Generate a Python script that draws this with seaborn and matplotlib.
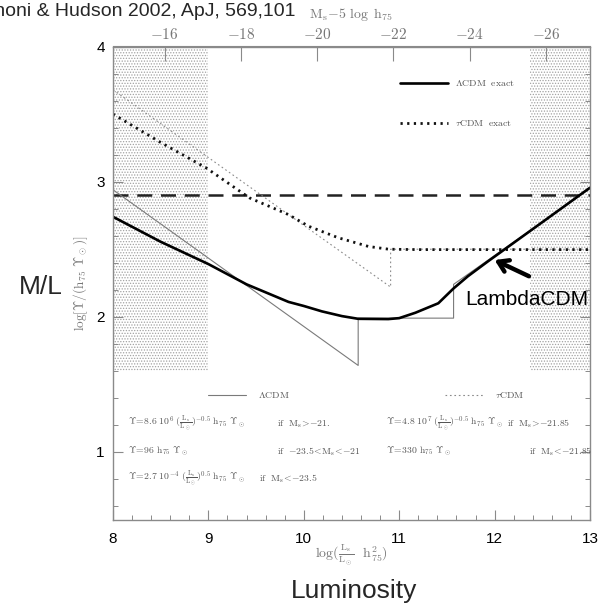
import matplotlib
matplotlib.use("Agg")
import matplotlib.pyplot as plt
import seaborn as sns
import numpy as np
from matplotlib.lines import Line2D
from matplotlib.ticker import MultipleLocator, FixedLocator

# ---------------- data ----------------
lcdm_exact_x = [8.0, 8.5, 9.0, 9.4, 9.84, 10.0, 10.19, 10.4, 10.57, 10.885, 11.0,
                11.17, 11.41, 11.57, 11.72, 11.93, 12.5, 12.97, 13.0]
lcdm_exact_y = [2.74, 2.555, 2.39, 2.24, 2.11, 2.08, 2.04, 2.005, 1.985, 1.983, 1.99,
                2.03, 2.10, 2.21, 2.30, 2.41, 2.70, 2.94, 2.955]
tcdm_exact_x = [8.0, 8.5, 8.98, 9.43, 9.84, 10.05, 10.36, 10.68, 10.89, 11.2, 13.0]
tcdm_exact_y = [3.50, 3.29, 3.10, 2.88, 2.756, 2.67, 2.585, 2.52, 2.50, 2.497, 2.497]
lcdm_fit_x = [8.0, 10.57, 10.57, 11.57, 11.57, 13.0]
lcdm_fit_y = [2.94, 1.64, 1.99, 1.99, 2.24, 2.95]
tcdm_fit_x = [8.0, 10.91, 10.91, 13.0]
tcdm_fit_y = [3.68, 2.22, 2.50, 2.50]
const_x = [8.0, 13.0]
const_y = [2.9, 2.9]
excluded_ranges = [(8.0, 9.0), (12.37, 13.0)]
excluded_ylow, excluded_yhigh = 1.6, 4.0
top_ticks = [-16, -18, -20, -22, -24, -26]
mag_zero = 5.35  # M_s - 5 log h75 = mag_zero - 2.5 log L

lcdm_rows = [
    (r"$\Upsilon\!=\!8.6\ 10^{6}\ (\frac{\mathrm{L_s}}{\mathrm{L_\odot}})^{-0.5}\ \mathrm{h_{75}}\ \Upsilon_\odot$",
     r"$\mathrm{if}\ \ \mathrm{M_s}\!>\!{-}21.$"),
    (r"$\Upsilon\!=\!96\ \mathrm{h_{75}}\ \Upsilon_\odot$",
     r"$\mathrm{if}\ \ {-}23.5\!<\!\mathrm{M_s}\!<\!{-}21$"),
    (r"$\Upsilon\!=\!2.7\ 10^{-4}\ (\frac{\mathrm{L_s}}{\mathrm{L_\odot}})^{0.5}\ \mathrm{h_{75}}\ \Upsilon_\odot$",
     r"$\mathrm{if}\ \ \mathrm{M_s}\!<\!{-}23.5$"),
]
tcdm_rows = [
    (r"$\Upsilon\!=\!4.8\ 10^{7}\ (\frac{\mathrm{L_s}}{\mathrm{L_\odot}})^{-0.5}\ \mathrm{h_{75}}\ \Upsilon_\odot$",
     r"$\mathrm{if}\ \ \mathrm{M_s}\!>\!{-}21.85$"),
    (r"$\Upsilon\!=\!330\ \mathrm{h_{75}}\ \Upsilon_\odot$",
     r"$\mathrm{if}\ \ \mathrm{M_s}\!<\!{-}21.85$"),
]

# ---------------- style ----------------
sns.set_style("ticks")
plt.rcParams["font.family"] = ["Liberation Sans", "DejaVu Sans"]
plt.rcParams["mathtext.fontset"] = "cm"
plt.rcParams["hatch.linewidth"] = 0.6
GREY = "#8a8a8a"
TXT = "#555555"

fig = plt.figure(figsize=(6.09, 6.06), dpi=100)
ax = fig.add_axes([113 / 609, 1 - 519.5 / 606, 477 / 609, 473 / 606])

# excluded (shaded) regions
for lo, hi in excluded_ranges:
    ax.fill_between([lo, hi], excluded_ylow, excluded_yhigh, facecolor="white",
                    hatch="......", edgecolor="#a2a2a2", linewidth=0, zorder=0)

# lines
sns.lineplot(x=const_x, y=const_y, sort=False, estimator=None, ax=ax,
             color="#222222", lw=1.8, linestyle=(0, (6, 3.5)))
sns.lineplot(x=lcdm_fit_x, y=lcdm_fit_y, sort=False, estimator=None, ax=ax,
             color="#7a7a7a", lw=0.8)
l_lcdm_fit = ax.lines[-1]
sns.lineplot(x=tcdm_fit_x, y=tcdm_fit_y, sort=False, estimator=None, ax=ax,
             color="#8a8a8a", lw=0.8, linestyle=(0, (1.5, 2.5)))
l_tcdm_fit = ax.lines[-1]
sns.lineplot(x=tcdm_exact_x, y=tcdm_exact_y, sort=False, estimator=None, ax=ax,
             color="#111111", lw=2.0, linestyle=(0, (0.8, 1.6)))
l_tcdm_exact = ax.lines[-1]
sns.lineplot(x=lcdm_exact_x, y=lcdm_exact_y, sort=False, estimator=None, ax=ax,
             color="#000000", lw=1.9)
l_lcdm_exact = ax.lines[-1]

ax.set_xlim(8, 13)
ax.set_ylim(0.5, 4)

# ticks
ax.xaxis.set_major_locator(MultipleLocator(1))
ax.xaxis.set_minor_locator(MultipleLocator(0.2))
ax.yaxis.set_major_locator(MultipleLocator(1))
ax.yaxis.set_minor_locator(MultipleLocator(0.2))
ax.set_yticks([1, 2, 3, 4])
ax.tick_params(which="both", direction="in", color=GREY, top=False, right=True)
ax.tick_params(which="major", length=7, width=0.8, labelsize=11, labelcolor="black")
ax.tick_params(which="minor", length=3.5, width=0.7)
ax.tick_params(axis="x", which="major", pad=9)
ax.tick_params(axis="y", which="major", pad=6)
for s in ax.spines.values():
    s.set_color(GREY)
    s.set_linewidth(1.0)

# top magnitude axis
sec = ax.secondary_xaxis("top", functions=(lambda x: mag_zero - 2.5 * x,
                                            lambda m: (mag_zero - m) / 2.5))
sec.xaxis.set_major_locator(FixedLocator(top_ticks))
sec.set_xticklabels([r"$-%d$" % abs(t) for t in top_ticks])
sec.tick_params(direction="in", length=11, width=0.8, color=GREY,
                labelsize=11, labelcolor="#777777", pad=3)
sec.spines["top"].set_color(GREY)
sec.set_xlabel(r"$\mathrm{M_s\!-\!5\ \log\ h_{75}}$", fontsize=10, color="#777777",
               labelpad=7)

# axis labels
ax.set_xlabel(r"$\log(\frac{\mathrm{L_s}}{\mathrm{L_\odot}}\ \ \mathrm{h^2_{75}})$",
              fontsize=10, color="#777777")
ax.xaxis.set_label_coords(0.5, (519.5 - 543) / 473)
ax.set_ylabel(r"$\log[\Upsilon/(\mathrm{h_{75}}\ \Upsilon_\odot)]$",
              fontsize=9.5, color="#777777")
ax.yaxis.set_label_coords((90 - 113) / 477, 0.5)

# legends
h1 = [Line2D([], [], color=l_lcdm_exact.get_color(), lw=1.9),
      Line2D([], [], color=l_tcdm_exact.get_color(), lw=2.0, linestyle=(0, (0.8, 1.6)))]
leg1 = ax.legend(h1, [r"$\Lambda\mathrm{CDM\ \ exact}$", r"$\tau\mathrm{CDM\ \ exact}$"],
                 loc="upper left", bbox_to_anchor=((400 - 113) / 477, (519.5 - 78) / 473),
                 frameon=False, fontsize=7, handlelength=4.9, handletextpad=0.8,
                 labelspacing=3.1, borderpad=0, borderaxespad=0)
for t in leg1.get_texts():
    t.set_color(TXT)
ax.add_artist(leg1)

h2 = [Line2D([], [], color=l_lcdm_fit.get_color(), lw=0.8),
      Line2D([], [], color=l_tcdm_fit.get_color(), lw=0.8, linestyle=(0, (1.5, 2.5)))]
leg2 = ax.legend(h2, [r"$\Lambda\mathrm{CDM}$", r"$\tau\mathrm{CDM}$"],
                 loc="upper left", bbox_to_anchor=((208 - 113) / 477, (519.5 - 390) / 473),
                 frameon=False, fontsize=7, ncol=2, handlelength=3.9, handletextpad=1.2,
                 columnspacing=16.0, borderpad=0, borderaxespad=0)
for t in leg2.get_texts():
    t.set_color(TXT)

# formula texts
row_y = [1.207, 1.0, 0.80]
lcdm_if_x = [9.72, 9.72, 9.53]
for (f, c), y, xi in zip(lcdm_rows, row_y, lcdm_if_x):
    ax.text(8.156, y, f, fontsize=7, color=TXT, ha="left", va="center")
    ax.text(xi, y, c, fontsize=7, color=TXT, ha="left", va="center")
tcdm_if_x = [12.135, 12.365]
for (f, c), y, xi in zip(tcdm_rows, row_y[:2], tcdm_if_x):
    ax.text(10.865, y, f, fontsize=7, color=TXT, ha="left", va="center")
    ax.text(xi, y, c, fontsize=7, color=TXT, ha="left", va="center")

# annotation
ax.annotate("", xy=(12.0, 2.42), xytext=(12.36, 2.30),
            arrowprops=dict(arrowstyle="->,head_length=0.7,head_width=0.45",
                            lw=3.2, color="black", shrinkA=0, shrinkB=0))
ax.text(12.34, 2.126, "LambdaCDM", fontsize=15, color="black",
        ha="center", va="center")

# big annotations
fig.text(41 / 609, 1 - 287 / 606, "M/L", fontsize=19, ha="center", va="center")
fig.text(354 / 609, 1 - 591 / 606, "Luminosity", fontsize=19, ha="center", va="center")
fig.text(296 / 609, 1 - 11 / 606, "Marinoni & Hudson 2002, ApJ, 569,101",
         fontsize=14, ha="right", va="center")

fig.savefig("out.png", dpi=100)
